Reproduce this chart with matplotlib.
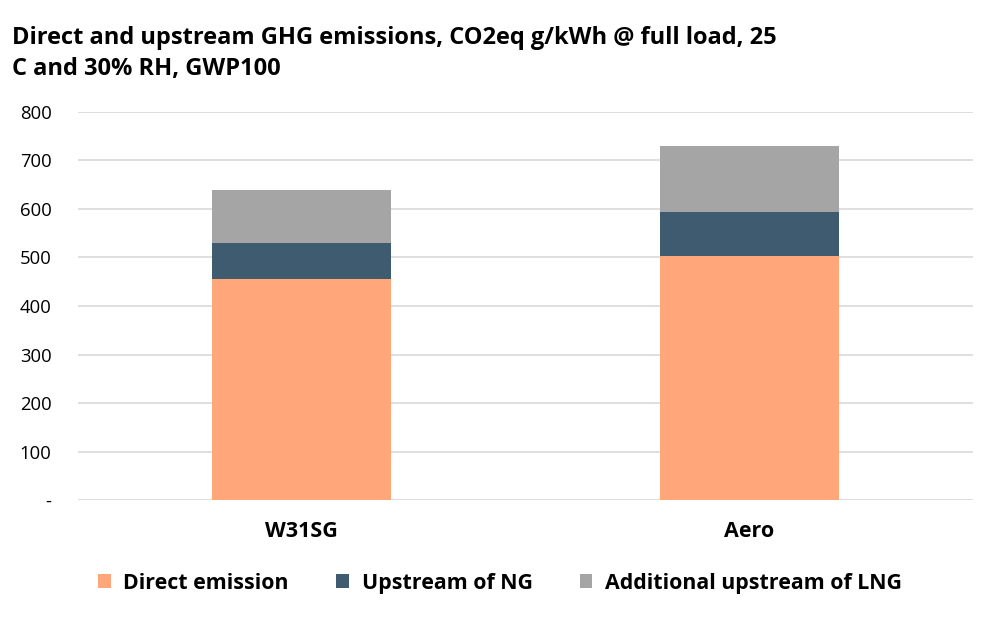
import matplotlib.pyplot as plt
import numpy as np

plt.rcParams['font.family'] = ['Open Sans', 'DejaVu Sans']

# Data
categories = ['W31SG', 'Aero']
direct_emission = [456, 504]
upstream_ng = [74, 90]
additional_lng = [110, 136]
series_names = ['Direct emission', 'Upstream of NG', 'Additional upstream of LNG']
colors = ['#ffa67a', '#3e5b6f', '#a5a5a5']
yticks = [0, 100, 200, 300, 400, 500, 600, 700, 800]
ytick_labels = ['-', '100', '200', '300', '400', '500', '600', '700', '800']

fig = plt.figure(figsize=(10, 6.17), dpi=100)
ax = fig.add_axes([0.078, 0.1896, 0.895, 0.6289])

x = np.arange(len(categories))
bottom = np.zeros(len(categories))
bars = []
for vals, name, c in zip([direct_emission, upstream_ng, additional_lng], series_names, colors):
    b = ax.bar(x, vals, 0.4, bottom=bottom, color=c, label=name, zorder=3)
    bars.append(b)
    bottom += np.array(vals)

ax.set_xlim(-0.5, 1.5)
ax.set_ylim(0, 800)
ax.set_yticks(yticks)
ax.set_yticklabels(ytick_labels, fontsize=13.3)
ax.set_xticks(x)
ax.set_xticklabels(categories, fontsize=15.5, fontweight='bold')
ax.tick_params(axis='both', length=0)
ax.tick_params(axis='y', pad=19)
ax.tick_params(axis='x', pad=15)
ax.grid(axis='y', color='#d9d9d9', linewidth=1.2, zorder=0)
for s in ax.spines.values():
    s.set_visible(False)

fig.text(0.012, 0.958, 'Direct and upstream GHG emissions, CO2eq g/kWh @ full load, 25\nC and 30% RH, GWP100',
         fontsize=17, fontweight='bold', ha='left', va='top', linespacing=1.42)

fig.legend(handles=bars, labels=series_names, loc='center', bbox_to_anchor=(0.5, 0.055), ncol=3,
           frameon=False, prop={'size': 15.4, 'weight': 'bold'}, handlelength=0.6, handleheight=0.6,
           columnspacing=2.2, handletextpad=0.6)

plt.savefig('out.png', dpi=100)
